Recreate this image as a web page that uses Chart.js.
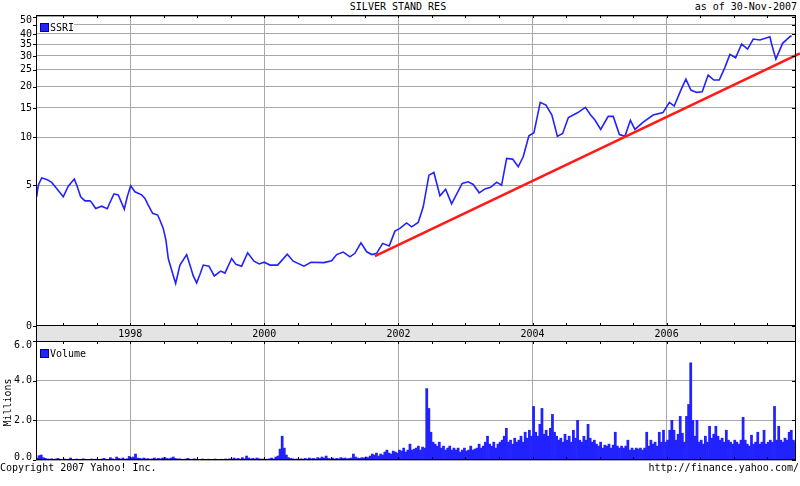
<!DOCTYPE html>
<html>
<head>
<meta charset="utf-8">
<script src="https://cdn.jsdelivr.net/npm/chart.js@4.4.0/dist/chart.umd.min.js"></script>
<style>
  body { margin: 0; background: #fff; width: 800px; height: 486px; position: relative; overflow: hidden;
         font-family: 'DejaVu Sans Mono', monospace; font-size: 10px; color: #000; }
  .txt { position: absolute; white-space: pre; line-height: 10px; }
  #priceCanvas { position: absolute; left: 0; top: 0; }
  #volCanvas { position: absolute; left: 0; top: 331px; }
</style>
</head>
<body>
<div class="txt" style="left:0;width:796px;top:2px;text-align:center;">SILVER STAND RES</div>
<div class="txt" style="right:3px;top:2px;">as of 30-Nov-2007</div>
<canvas id="priceCanvas" width="800" height="342"></canvas>
<canvas id="volCanvas" width="800" height="135"></canvas>
<div class="txt" style="left:0;top:463px;">Copyright 2007 Yahoo! Inc.</div>
<div class="txt" style="right:1px;top:463px;">http://finance.yahoo.com/</div>
<script>
// ---- data ----
const priceYears = [1996.604,1996.628,1996.679,1996.753,1996.828,1996.902,1997.001,1997.075,1997.165,1997.201,
  1997.260,1997.324,1997.399,1997.424,1997.484,1997.573,1997.657,1997.697,1997.757,1997.821,
  1997.911,1997.955,1998.006,1998.070,1998.170,1998.219,1998.268,1998.334,1998.409,1998.443,
  1998.492,1998.532,1998.567,1998.632,1998.677,1998.741,1998.841,1998.890,1998.940,1998.990,
  1999.040,1999.089,1999.174,1999.253,1999.348,1999.412,1999.512,1999.576,1999.661,1999.751,
  1999.845,1999.924,1999.998,2000.084,2000.198,2000.342,2000.431,2000.591,2000.695,2000.889,
  2001.004,2001.078,2001.177,2001.277,2001.351,2001.441,2001.526,2001.605,2001.675,2001.764,
  2001.863,2001.948,2002.022,2002.122,2002.197,2002.295,2002.370,2002.455,2002.529,2002.619,
  2002.704,2002.793,2002.951,2003.041,2003.116,2003.205,2003.290,2003.375,2003.465,2003.539,
  2003.614,2003.703,2003.787,2003.861,2003.946,2004.021,2004.115,2004.200,2004.289,2004.371,
  2004.449,2004.535,2004.670,2004.789,2004.864,2004.931,2005.017,2005.129,2005.204,2005.296,
  2005.378,2005.460,2005.527,2005.651,2005.800,2005.945,2006.042,2006.113,2006.224,2006.288,
  2006.362,2006.447,2006.531,2006.620,2006.705,2006.785,2006.870,2006.944,2007.029,2007.119,
  2007.208,2007.292,2007.392,2007.541,2007.566,2007.630,2007.730,2007.839,2007.864];
const priceValues = [4.17,5.00,5.58,5.45,5.21,4.75,4.17,4.92,5.48,5.00,
  4.17,3.91,3.91,3.81,3.46,3.59,3.44,3.81,4.37,4.30,
  3.42,4.17,4.95,4.51,4.30,4.07,3.65,3.19,3.10,2.84,
  2.46,1.98,1.36,0.95,0.72,1.17,1.48,1.17,0.89,0.73,
  0.93,1.17,1.14,0.89,1.01,0.96,1.36,1.19,1.14,1.54,
  1.28,1.20,1.25,1.17,1.17,1.49,1.28,1.14,1.25,1.24,
  1.29,1.48,1.56,1.41,1.52,1.88,1.57,1.48,1.52,1.86,
  1.77,2.34,2.46,2.71,2.53,2.73,3.55,5.81,6.05,4.24,
  4.70,3.73,5.13,5.26,5.05,4.44,4.72,4.83,5.23,5.00,
  7.43,7.35,6.57,7.60,10.24,10.67,16.18,15.60,13.62,10.15,
  10.58,13.16,14.05,15.12,13.67,12.72,11.19,13.38,13.38,10.41,
  10.15,12.67,11.19,12.36,13.62,14.09,16.18,15.39,19.53,22.11,
  19.09,18.51,18.66,23.33,21.82,21.82,25.82,30.65,29.31,35.08,
  32.85,37.45,36.96,38.59,35.08,28.77,35.40,38.59,39.20];

// hand drawn trend line (start / end)
const trendYears = [2001.649, 2007.988];
const trendValues = [1.43, 31.0];

// volume, millions of shares, one value per 1/32 year starting at the left edge
const volStart = 1996.594;
const volStep = 1 / 32;
const volumeMillions = [
  0.10,0.22,0.25,0.12,0.08,0.05,0.04,0.06,0.03,0.05,
  0.08,0.04,0.03,0.05,0.02,0.04,0.10,0.03,0.02,0.05,
  0.03,0.02,0.06,0.04,0.02,0.03,0.05,0.02,0.04,0.03,
  0.02,0.05,0.08,0.04,0.03,0.12,0.06,0.04,0.15,0.08,
  0.05,0.10,0.04,0.06,0.18,0.12,0.15,0.30,0.10,0.08,
  0.06,0.10,0.05,0.07,0.04,0.06,0.10,0.05,0.08,0.06,
  0.10,0.12,0.08,0.06,0.10,0.15,0.08,0.05,0.06,0.04,
  0.03,0.05,0.08,0.04,0.03,0.06,0.04,0.02,0.03,0.05,
  0.03,0.02,0.04,0.03,0.02,0.05,0.03,0.02,0.04,0.03,
  0.05,0.04,0.06,0.03,0.10,0.05,0.08,0.04,0.12,0.06,
  0.20,0.10,0.06,0.08,0.05,0.10,0.06,0.04,0.05,0.03,
  0.04,0.06,0.10,0.05,0.15,0.20,0.55,1.20,0.60,0.25,
  0.12,0.08,0.06,0.04,0.05,0.03,0.06,0.04,0.08,0.05,
  0.10,0.06,0.08,0.05,0.12,0.08,0.15,0.10,0.20,0.08,
  0.06,0.10,0.05,0.08,0.06,0.12,0.08,0.10,0.06,0.08,
  0.10,0.30,0.15,0.10,0.08,0.12,0.10,0.15,0.12,0.20,
  0.30,0.25,0.35,0.20,0.30,0.25,0.40,0.50,0.35,0.30,
  0.45,0.40,0.35,0.50,0.45,0.60,0.40,0.50,0.80,0.50,
  0.55,0.60,0.70,0.50,0.65,0.60,3.60,2.60,1.40,0.90,
  0.80,0.70,0.90,0.60,0.70,0.50,0.60,0.70,0.50,0.60,
  0.50,0.60,0.40,0.50,0.60,0.45,0.50,0.70,0.50,0.55,
  0.60,0.80,0.60,0.70,0.90,1.20,0.80,0.70,0.90,0.60,
  0.80,0.90,1.00,1.20,1.60,0.90,1.00,0.80,1.10,0.90,
  1.00,1.20,0.90,1.40,1.10,1.50,1.20,2.70,1.40,1.20,
  1.80,2.60,1.30,1.50,1.20,1.60,2.30,1.40,1.20,1.00,
  1.10,0.90,1.30,1.00,1.20,0.90,1.50,1.10,2.00,1.00,
  0.90,1.20,1.00,1.80,1.10,0.90,1.00,0.80,0.70,0.90,
  0.60,0.75,0.70,0.80,0.60,0.75,1.40,0.70,0.60,0.70,
  0.60,0.70,1.00,0.50,0.60,0.50,0.60,0.55,0.60,0.50,
  0.60,1.40,0.70,1.00,0.80,0.90,0.70,1.40,0.90,1.50,
  0.90,1.00,1.50,2.00,1.50,1.00,1.30,2.20,1.35,0.90,
  2.20,2.80,4.90,2.00,1.20,2.00,0.90,1.00,0.80,1.20,
  0.90,1.70,1.10,1.30,1.70,1.20,1.00,1.10,0.90,1.50,
  1.00,0.90,0.80,1.00,0.90,0.80,1.00,2.15,1.00,0.80,
  0.70,1.25,0.80,0.90,1.40,0.80,0.90,1.50,0.80,0.90,
  1.00,0.90,2.70,1.00,1.70,1.00,0.90,1.10,1.00,1.40,
  1.50,1.00,0.90];

const xMin = 1996.594, xMax = 2007.93;
const gridYears = [1998, 2000, 2002, 2004, 2006];
const tickYears = [1997,1997.5,1998,1998.5,1999,1999.5,2000,2000.5,2001,2001.5,2002,2002.5,
  2003,2003.5,2004,2004.5,2005,2005.5,2006,2006.5,2007,2007.5];
const priceTicks = [0, 5, 10, 15, 20, 25, 30, 35, 40, 45, 50];
const priceTickLabels = ['0','5','10','15','20','25','30','35','40','','50'];
const priceTop = 51.2;
const volTicks = [0, 2, 4, 6];
const volTickLabels = ['0.0', '2.0', '4.0', '6.0'];

// ---- styling ----
const BLUE = '#2222ff';
const GRID = '#a8a8a8';
const FONT = "10px 'DejaVu Sans Mono', monospace";

// price axis is log(v + 1)
const tf = v => Math.log1p(v);

function strokeTicks(ctx, a, xs, ys) {
  ctx.strokeStyle = '#000';
  ctx.lineWidth = 1;
  ctx.beginPath();
  tickYears.forEach(t => {
    const px = Math.round(xs.getPixelForValue(t)) + 0.5;
    ctx.moveTo(px, a.top); ctx.lineTo(px, a.top + 3);
    ctx.moveTo(px, a.bottom); ctx.lineTo(px, a.bottom - 3);
  });
  ys.forEach(py => {
    const p = Math.round(py) + 0.5;
    ctx.moveTo(a.left - 3, p); ctx.lineTo(a.left, p);
    ctx.moveTo(a.right - 4, p); ctx.lineTo(a.right, p);
  });
  ctx.stroke();
  ctx.strokeRect(Math.round(a.left) + 0.5, Math.round(a.top) + 0.5,
                 Math.round(a.right - a.left) - 1, Math.round(a.bottom - a.top) - 1);
}

function legendBox(ctx, a, label, boxW) {
  const x0 = Math.round(a.left) + 1, y0 = Math.round(a.top);
  ctx.fillStyle = '#fff';
  ctx.fillRect(x0, y0 + 4, boxW, 13);
  ctx.fillStyle = BLUE;
  ctx.fillRect(x0 + 4, y0 + 9, 7, 7);
  ctx.strokeStyle = '#00008b';
  ctx.strokeRect(x0 + 3.5, y0 + 8.5, 8, 8);
  ctx.fillStyle = '#000';
  ctx.font = FONT;
  ctx.textAlign = 'left';
  ctx.textBaseline = 'middle';
  ctx.fillText(label, x0 + 13, y0 + 13);
}

const priceDeco = {
  id: 'priceDeco',
  afterDraw(chart) {
    const { ctx, chartArea: a, scales: { x, y } } = chart;
    ctx.save();
    // date band under the price pane
    const bandH = 15;
    ctx.fillStyle = '#e4e4e4';
    ctx.fillRect(a.left, a.bottom, a.right - a.left, bandH);
    ctx.strokeStyle = '#000';
    ctx.beginPath();
    ctx.moveTo(Math.round(a.left) + 0.5, a.bottom); ctx.lineTo(Math.round(a.left) + 0.5, a.bottom + bandH);
    ctx.moveTo(Math.round(a.right) - 0.5, a.bottom); ctx.lineTo(Math.round(a.right) - 0.5, a.bottom + bandH);
    ctx.stroke();
    ctx.fillStyle = '#000';
    ctx.font = FONT;
    ctx.textAlign = 'center';
    ctx.textBaseline = 'middle';
    gridYears.forEach(yr => ctx.fillText(String(yr), x.getPixelForValue(yr), a.bottom + 8));

    const yPx = priceTicks.map(v => y.getPixelForValue(tf(v)));
    strokeTicks(ctx, a, x, yPx);
    ctx.textAlign = 'right';
    priceTicks.forEach((v, i) => {
      if (!priceTickLabels[i]) return;
      const py = Math.max(yPx[i], a.top + 5);
      ctx.fillText(priceTickLabels[i], a.left - 4, py);
    });
    legendBox(ctx, a, 'SSRI', 37);
    ctx.restore();
  }
};

const volDeco = {
  id: 'volDeco',
  afterDraw(chart) {
    const { ctx, chartArea: a, scales: { x, y } } = chart;
    ctx.save();
    const yPx = volTicks.map(v => y.getPixelForValue(v));
    strokeTicks(ctx, a, x, yPx);
    ctx.fillStyle = '#000';
    ctx.font = FONT;
    ctx.textAlign = 'right';
    ctx.textBaseline = 'middle';
    volTicks.forEach((v, i) => {
      const py = Math.min(Math.max(yPx[i], a.top + 4), a.bottom - 3);
      ctx.fillText(volTickLabels[i], a.left - 4, py);
    });
    ctx.save();
    ctx.translate(8, (a.top + a.bottom) / 2 + 2);
    ctx.rotate(-Math.PI / 2);
    ctx.textAlign = 'center';
    ctx.fillText('Millions', 0, 0);
    ctx.restore();
    legendBox(ctx, a, 'Volume', 50);
    ctx.restore();
  }
};

function makeXScale() {
  return {
    type: 'linear', min: xMin, max: xMax, offset: false,
    afterBuildTicks: s => { s.ticks = gridYears.map(v => ({ value: v })); },
    ticks: { display: false },
    grid: { color: GRID, lineWidth: 1, drawTicks: false, offset: false },
    border: { display: false }
  };
}

new Chart(document.getElementById('priceCanvas'), {
  type: 'line',
  data: {
    datasets: [
      {
        label: 'trend',
        data: trendYears.map((t, i) => ({ x: t, y: tf(trendValues[i]) })),
        borderColor: '#ff1a1a', borderWidth: 2.6, pointRadius: 0, clip: false
      },
      {
        label: 'SSRI',
        data: priceYears.map((t, i) => ({ x: t, y: tf(priceValues[i]) })),
        borderColor: BLUE, borderWidth: 1.6, pointRadius: 0, tension: 0
      }
    ]
  },
  options: {
    responsive: false, animation: false, devicePixelRatio: 1,
    layout: { padding: { left: 36, right: 4, top: 15, bottom: 16 } },
    plugins: { legend: { display: false }, tooltip: { enabled: false } },
    scales: {
      x: makeXScale(),
      y: {
        type: 'linear', min: 0, max: tf(priceTop),
        afterBuildTicks: s => { s.ticks = priceTicks.map(v => ({ value: tf(v) })); },
        ticks: { display: false },
        grid: { color: GRID, lineWidth: 1, drawTicks: false },
        border: { display: false }
      }
    }
  },
  plugins: [priceDeco]
});

new Chart(document.getElementById('volCanvas'), {
  type: 'bar',
  data: {
    datasets: [{
      label: 'Volume',
      data: volumeMillions.map((v, i) => ({ x: volStart + (i + 0.5) * volStep, y: v })),
      backgroundColor: BLUE, borderWidth: 0,
      barPercentage: 1, categoryPercentage: 1
    }]
  },
  options: {
    responsive: false, animation: false, devicePixelRatio: 1,
    layout: { padding: { left: 36, right: 4, top: 10, bottom: 6 } },
    plugins: { legend: { display: false }, tooltip: { enabled: false } },
    scales: {
      x: makeXScale(),
      y: {
        type: 'linear', min: 0, max: 6,
        afterBuildTicks: s => { s.ticks = volTicks.map(v => ({ value: v })); },
        ticks: { display: false },
        grid: { color: GRID, lineWidth: 1, drawTicks: false },
        border: { display: false }
      }
    }
  },
  plugins: [volDeco]
});
</script>
</body>
</html>
